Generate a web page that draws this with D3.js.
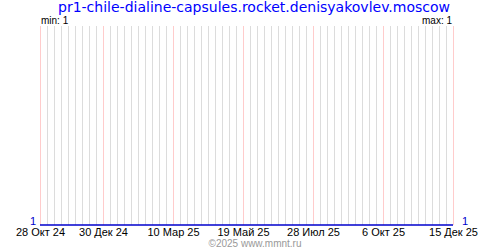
<!DOCTYPE html>
<html lang="ru">
<head>
    <meta charset="UTF-8">
    <title>pr1-chile-dialine-capsules.rocket.denisyakovlev.moscow</title>
    <script src="https://d3js.org/d3.v7.min.js"></script>
    <style>
        body { margin: 0; background: #fff; }
        svg { display: block; }
        .tick-label { font-family: "Liberation Sans", Arial, sans-serif; font-size: 11px; fill: #000; }
    </style>
</head>
<body>
    <svg id="chart" width="500" height="250"></svg>

    <script>
        const title = "pr1-chile-dialine-capsules.rocket.denisyakovlev.moscow";
        const startDate = "2024-10-28";
        const endDate = "2025-12-15";
        // labelled dates (pink lines)
        const labelDates = ["2024-10-28", "2024-12-30", "2025-03-10", "2025-05-19", "2025-07-28", "2025-10-06", "2025-12-15"];
        const monthNames = ["Янв", "Фев", "Мар", "Апр", "Май", "Июн", "Июл", "Авг", "Сен", "Окт", "Ноя", "Дек"];
        // series: value stays at 1 for the whole period
        const seriesDates = ["2024-10-28", "2025-12-15"];
        const seriesValues = [1, 1];
        const minValue = 1;
        const maxValue = 1;

        const parse = d3.utcParse("%Y-%m-%d");
        const plotLeft = 40, plotRight = 453, plotTop = 26, plotBottom = 225;

        const svg = d3.select("#chart");

        const x = d3.scaleUtc()
            .domain([parse(startDate), parse(endDate)])
            .range([plotLeft, plotRight]);

        const y = d3.scaleLinear()
            .domain([minValue, maxValue + 1])
            .range([plotBottom, plotTop]);

        // weekly grid
        const weeks = d3.utcMonday.range(parse(startDate), d3.utcDay.offset(parse(endDate), 1));
        svg.append("g")
            .selectAll("line")
            .data(weeks)
            .join("line")
            .attr("x1", d => Math.round(x(d)) + 0.5)
            .attr("x2", d => Math.round(x(d)) + 0.5)
            .attr("y1", plotTop)
            .attr("y2", plotBottom)
            .attr("stroke", "#dcdcdc");

        const labels = labelDates.map(parse);
        svg.append("g")
            .selectAll("line")
            .data(labels)
            .join("line")
            .attr("x1", d => Math.round(x(d)) + 0.5)
            .attr("x2", d => Math.round(x(d)) + 0.5)
            .attr("y1", plotTop)
            .attr("y2", plotBottom)
            .attr("stroke", "#ffcccc");

        // axis labels
        const axis = d3.axisBottom(x)
            .tickValues(labels)
            .tickSize(0)
            .tickPadding(0)
            .tickFormat(d => `${d.getUTCDate()} ${monthNames[d.getUTCMonth()]} ${String(d.getUTCFullYear()).slice(2)}`);

        const axisG = svg.append("g")
            .attr("transform", `translate(0,${plotBottom})`)
            .call(axis);
        axisG.select(".domain").remove();
        axisG.selectAll("text")
            .attr("class", "tick-label")
            .attr("y", 11)
            .attr("dy", 0);
        axisG.attr("font-family", null).attr("font-size", null);

        // data line
        const series = seriesDates.map((d, i) => ({ date: parse(d), value: seriesValues[i] }));
        svg.append("path")
            .datum(series)
            .attr("fill", "none")
            .attr("stroke", "#0000cc")
            .attr("stroke-width", 1.5)
            .attr("d", d3.line().x(d => x(d.date)).y(d => y(d.value)));

        // value markers at both ends
        svg.append("text")
            .attr("x", plotLeft - 4)
            .attr("y", plotBottom)
            .attr("text-anchor", "end")
            .attr("font-family", "Liberation Sans, Arial, sans-serif")
            .attr("font-size", 11)
            .attr("fill", "#0000cc")
            .text(seriesValues[0]);
        svg.append("text")
            .attr("x", plotRight + 9)
            .attr("y", plotBottom)
            .attr("font-family", "Liberation Sans, Arial, sans-serif")
            .attr("font-size", 11)
            .attr("fill", "#0000cc")
            .text(seriesValues[seriesValues.length - 1]);

        // min / max
        svg.append("text")
            .attr("x", plotLeft + 1)
            .attr("y", 24)
            .attr("font-family", "Liberation Sans, Arial, sans-serif")
            .attr("font-size", 10)
            .attr("fill", "#000")
            .text(`min: ${minValue}`);
        svg.append("text")
            .attr("x", plotRight - 1)
            .attr("y", 24)
            .attr("text-anchor", "end")
            .attr("font-family", "Liberation Sans, Arial, sans-serif")
            .attr("font-size", 10)
            .attr("fill", "#000")
            .text(`max: ${maxValue}`);

        // title
        svg.append("text")
            .attr("x", 450)
            .attr("y", 12)
            .attr("text-anchor", "end")
            .attr("font-family", "DejaVu Sans, Verdana, sans-serif")
            .attr("font-size", 14)
            .attr("fill", "#0000ff")
            .text(title);

        // copyright
        svg.append("text")
            .attr("x", 255)
            .attr("y", 247)
            .attr("text-anchor", "middle")
            .attr("font-family", "Liberation Sans, Arial, sans-serif")
            .attr("font-size", 10)
            .attr("fill", "#999")
            .text("©2025 www.mmnt.ru");
    </script>
</body>
</html>
